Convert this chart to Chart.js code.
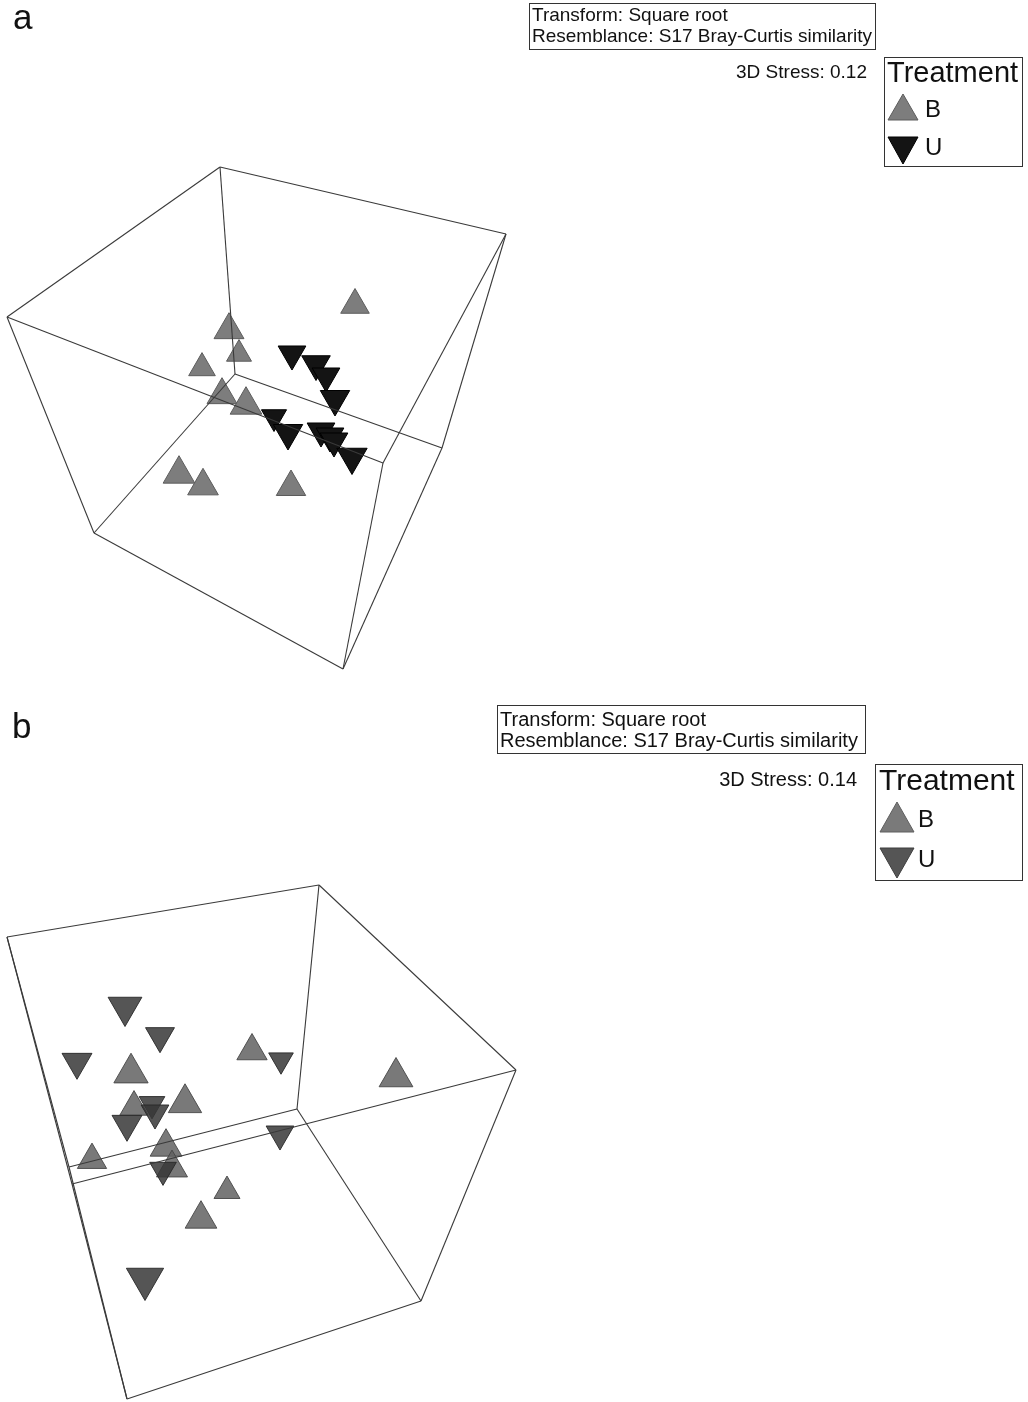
<!DOCTYPE html>
<html><head><meta charset="utf-8">
<script src="https://cdn.jsdelivr.net/npm/chart.js@4.4.1/dist/chart.umd.min.js"></script>
<style>
html,body{margin:0;padding:0;background:#fff;}
body{width:1028px;height:1402px;position:relative;overflow:hidden;font-family:"Liberation Sans",Arial,Helvetica,sans-serif;color:#111;}
.cv{position:absolute;left:0;}
.t{position:absolute;white-space:nowrap;line-height:1;}
.box{position:absolute;box-sizing:border-box;border:1px solid #333;}
svg.m{position:absolute;left:0;top:0;overflow:visible;}
</style></head><body>
<canvas id="ca" class="cv" width="1028" height="700" style="top:0"></canvas>
<canvas id="cb" class="cv" width="1028" height="702" style="top:700px"></canvas>

<div class="t" style="left:13px;top:-0.6px;font-size:35px">a</div>
<div class="box" style="left:529px;top:3px;width:347px;height:47px"></div>
<div class="t" style="left:532px;top:4.9px;font-size:19px">Transform: Square root</div>
<div class="t" style="left:532px;top:25.9px;font-size:19px">Resemblance: S17 Bray-Curtis similarity</div>
<div class="t" style="right:161px;top:61.9px;font-size:19px">3D Stress: 0.12</div>
<div class="box" style="left:884px;top:57px;width:139px;height:110px"></div>
<div class="t" style="left:887px;top:57.5px;font-size:29px">Treatment</div>
<div class="t" style="left:925px;top:96.7px;font-size:24px">B</div>
<div class="t" style="left:925px;top:134.7px;font-size:24px">U</div>

<div class="t" style="left:12px;top:708.4px;font-size:35px">b</div>
<div class="box" style="left:497px;top:705px;width:369px;height:49px"></div>
<div class="t" style="left:500px;top:708.6px;font-size:20px">Transform: Square root</div>
<div class="t" style="left:500px;top:730.1px;font-size:20px">Resemblance: S17 Bray-Curtis similarity</div>
<div class="t" style="right:171px;top:769.1px;font-size:20px">3D Stress: 0.14</div>
<div class="box" style="left:875px;top:764px;width:148px;height:117px"></div>
<div class="t" style="left:879px;top:764.6px;font-size:30px">Treatment</div>
<div class="t" style="left:918px;top:806.7px;font-size:24px">B</div>
<div class="t" style="left:918px;top:846.7px;font-size:24px">U</div>

<svg class="m" width="1028" height="1402">
  <polygon points="888,120 918,120 903,94" fill="#7d7d7d" stroke="#5c5c5c" stroke-width="1"/>
  <polygon points="888,137 918,137 903,164" fill="#141414" stroke="#000" stroke-width="1"/>
  <polygon points="880,832 914,832 897,802" fill="#7a7a7a" stroke="#5e5e5e" stroke-width="1"/>
  <polygon points="880,848 914,848 897,878" fill="#555" stroke="#3e3e3e" stroke-width="1"/>
</svg>

<script>
// ---------- Panel a : 3D nMDS projected coordinates ----------
const cubeA_x = [-2.94, -0.08, -5.07, -2.79, -0.72, -1.31, -4.20, -1.71];
const cubeA_y = [ 1.83,  1.16,  0.33, -0.24, -0.98, -1.13, -1.83, -3.19];
const cubeA_edges = [[0,1],[0,2],[0,3],[2,5],[2,6],[1,4],[1,5],[3,4],[3,6],[6,7],[5,7],[4,7]];

const treatB_a_x = [-1.59, -2.85, -2.75, -3.12, -2.92, -2.68, -3.35, -3.11, -2.23];
const treatB_a_y = [ 0.45,  0.20, -0.04, -0.18, -0.45, -0.55, -1.24, -1.36, -1.37];
const treatB_a_depth = [0, 0.2, -0.52, -0.28, 0.2, 0.45, 0.45, 0.3, 0.12];

const treatU_a_x = [-2.22, -1.98, -1.88, -1.79, -2.40, -2.26, -1.93, -1.84, -1.80, -1.62];
const treatU_a_y = [-0.04, -0.14, -0.26, -0.49, -0.67, -0.83, -0.81, -0.86, -0.91, -1.07];
const treatU_a_depth = [-0.12, 0, -0.12, 0.12, -0.5, 0.12, -0.12, -0.12, -0.12, 0.25];

// ---------- Panel b ----------
const cubeB_x = [-5.07, -1.95, 0.02, -2.17, -4.45, -4.42, -0.93, -3.87];
const cubeB_y = [ 1.14,  1.66, -0.19, -0.58, -1.16, -1.33, -2.50, -3.48];
const cubeB_edges = [[0,1],[1,2],[1,3],[0,4],[0,5],[3,4],[3,6],[2,5],[2,6],[6,7],[4,7],[5,7]];

const treatB_b_x = [-2.62, -1.18, -3.83, -3.80, -3.29, -3.48, -4.22, -3.42, -2.87, -3.13];
const treatB_b_y = [ 0.00, -0.26, -0.22, -0.56, -0.52, -0.96, -1.09, -1.17, -1.40, -1.68];
const treatB_b_depth = [0.25, 0.75, 0.82, -0.02, 0.68, 0.45, 0.1, 0.35, -0.38, 0.45];

const treatU_b_x = [-3.89, -3.54, -4.37, -2.33, -3.62, -3.59, -3.87, -3.51, -2.34, -3.69];
const treatU_b_y = [ 0.44,  0.15, -0.11, -0.09, -0.53, -0.62, -0.73, -1.19, -0.83, -2.28];
const treatU_b_depth = [0.75, 0.05, 0.2, -0.57, -0.42, -0.12, 0.2, -0.28, -0.12, 1.25];

function pts(xs, ys){ return xs.map((x,i)=>({x:x, y:ys[i]})); }

function buildChart(canvasId, cx, cy, edges, bx, by, bd, ux, uy, ud, style, yHalf){
  const datasets = [];
  edges.forEach(e=>{
    datasets.push({
      data:[{x:cx[e[0]],y:cy[e[0]]},{x:cx[e[1]],y:cy[e[1]]}],
      showLine:true, pointRadius:0, borderColor:'#3a3a3a', borderWidth:1.1,
      tension:0, fill:false, order:0, clip:false
    });
  });
  datasets.push({
    data: pts(ux, uy), showLine:false, order:1, clip:false,
    pointStyle:'triangle', pointRotation:180,
    pointRadius: c => 16.5 + 4*ud[c.dataIndex],
    pointBackgroundColor: style.uFill, pointBorderColor: style.uEdge, pointBorderWidth:1
  });
  datasets.push({
    data: pts(bx, by), showLine:false, order:2, clip:false,
    pointStyle:'triangle', pointRotation:0,
    pointRadius: c => 16.5 + 4*bd[c.dataIndex],
    pointBackgroundColor: style.bFill, pointBorderColor: style.bEdge, pointBorderWidth:1
  });
  return new Chart(document.getElementById(canvasId), {
    type:'scatter',
    data:{datasets},
    options:{
      responsive:false, animation:false, events:[],
      layout:{padding:0, autoPadding:false},
      plugins:{legend:{display:false}, tooltip:{enabled:false}},
      scales:{
        x:{type:'linear', display:false, min:-5.14, max:5.14},
        y:{type:'linear', display:false, min:-yHalf, max:yHalf}
      }
    }
  });
}

buildChart('ca', cubeA_x, cubeA_y, cubeA_edges,
  treatB_a_x, treatB_a_y, treatB_a_depth, treatU_a_x, treatU_a_y, treatU_a_depth,
  {bFill:'#7d7d7d', bEdge:'#5c5c5c', uFill:'#141414', uEdge:'#000'}, 3.5);

buildChart('cb', cubeB_x, cubeB_y, cubeB_edges,
  treatB_b_x, treatB_b_y, treatB_b_depth, treatU_b_x, treatU_b_y, treatU_b_depth,
  {bFill:'rgba(98,98,98,0.85)', bEdge:'rgba(70,70,70,0.9)', uFill:'rgba(55,55,55,0.85)', uEdge:'rgba(40,40,40,0.9)'}, 3.51);
</script>
</body></html>
